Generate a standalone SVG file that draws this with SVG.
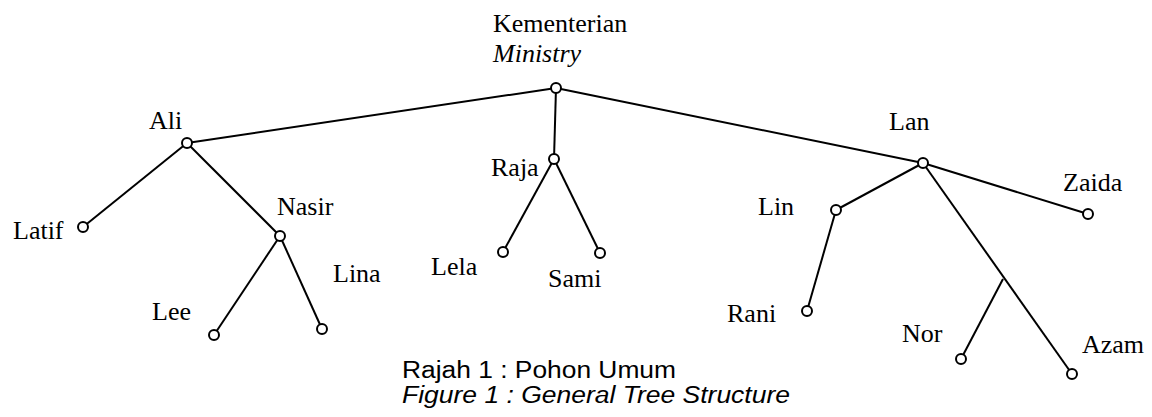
<svg xmlns="http://www.w3.org/2000/svg" width="1152" height="417" viewBox="0 0 1152 417">
<style>
.lbl{font-family:"Liberation Serif","Times New Roman",serif;font-size:26px;fill:#000}
.it{font-style:italic}
.cap{font-family:"Liberation Sans",Arial,sans-serif;font-size:23px;fill:#000}
.edge{stroke:#000;stroke-width:2;fill:none}
.nd{fill:#fff;stroke:#000;stroke-width:2}
</style>
<rect width="1152" height="417" fill="#fff"/>
<g id="connectors">
<line class="edge" x1="556" y1="88" x2="187" y2="143"/>
<line class="edge" x1="556" y1="88" x2="554" y2="159"/>
<line class="edge" x1="556" y1="88" x2="923" y2="163"/>
<line class="edge" x1="923" y1="163" x2="1088" y2="214"/>
<line class="edge" x1="187" y1="143" x2="83" y2="227"/>
<line class="edge" x1="187" y1="143" x2="280" y2="236"/>
<line class="edge" x1="280" y1="236" x2="214" y2="335"/>
<line class="edge" x1="280" y1="236" x2="322" y2="329"/>
<line class="edge" x1="554" y1="159" x2="503" y2="252"/>
<line class="edge" x1="554" y1="159" x2="600" y2="253"/>
<line class="edge" x1="923" y1="163" x2="836" y2="210"/>
<line class="edge" x1="836" y1="210" x2="807" y2="311"/>
<line class="edge" x1="923" y1="163" x2="1072" y2="374"/>
<line class="edge" x1="1003" y1="279" x2="961" y2="359"/>
</g>
<g id="n-ministry"><circle class="nd" cx="556" cy="88" r="5"/><text class="lbl" x="493" y="32">Kementerian</text><text class="lbl it" x="493" y="62">Ministry</text></g>
<g id="n-ali"><circle class="nd" cx="187" cy="143" r="5"/><text class="lbl" x="149" y="129">Ali</text></g>
<g id="n-raja"><circle class="nd" cx="554" cy="159" r="5"/><text class="lbl" x="491" y="176">Raja</text></g>
<g id="n-lan"><circle class="nd" cx="923" cy="163" r="5"/><text class="lbl" x="889" y="130">Lan</text></g>
<g id="n-zaida"><circle class="nd" cx="1088" cy="214" r="5"/><text class="lbl" x="1063" y="191">Zaida</text></g>
<g id="n-latif"><circle class="nd" cx="83" cy="227" r="5"/><text class="lbl" x="13" y="239">Latif</text></g>
<g id="n-nasir"><circle class="nd" cx="280" cy="236" r="5"/><text class="lbl" x="277" y="215">Nasir</text></g>
<g id="n-lee"><circle class="nd" cx="214" cy="335" r="5"/><text class="lbl" x="152" y="320">Lee</text></g>
<g id="n-lina"><circle class="nd" cx="322" cy="329" r="5"/><text class="lbl" x="333" y="282">Lina</text></g>
<g id="n-lela"><circle class="nd" cx="503" cy="252" r="5"/><text class="lbl" x="431" y="275">Lela</text></g>
<g id="n-sami"><circle class="nd" cx="600" cy="253" r="5"/><text class="lbl" x="548" y="287">Sami</text></g>
<g id="n-lin"><circle class="nd" cx="836" cy="210" r="5"/><text class="lbl" x="758" y="215">Lin</text></g>
<g id="n-rani"><circle class="nd" cx="807" cy="311" r="5"/><text class="lbl" x="727" y="322">Rani</text></g>
<g id="n-nor"><circle class="nd" cx="961" cy="359" r="5"/><text class="lbl" x="902" y="342">Nor</text></g>
<g id="n-azam"><circle class="nd" cx="1072" cy="374" r="5"/><text class="lbl" x="1082" y="353">Azam</text></g>
<g id="caption"><text class="cap" x="402" y="378" textLength="274" lengthAdjust="spacingAndGlyphs">Rajah 1 : Pohon Umum</text><text class="cap it" x="402" y="403" textLength="388" lengthAdjust="spacingAndGlyphs">Figure 1 : General Tree Structure</text></g>
</svg>
